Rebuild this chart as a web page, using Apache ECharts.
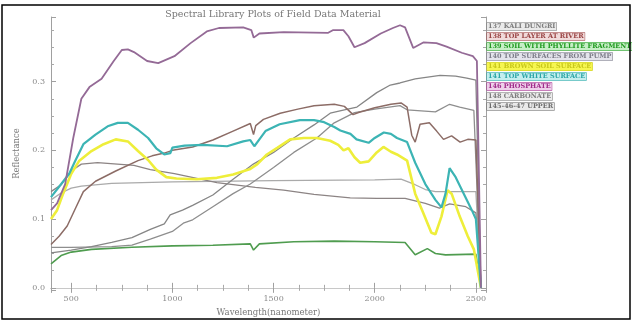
<!DOCTYPE html>
<html>
<head>
<meta charset="utf-8">
<title>Spectral Library Plots of Field Data Material</title>
<script src="https://cdn.jsdelivr.net/npm/echarts@6/dist/echarts.min.js"></script>
<style>
  html, body { margin: 0; padding: 0; background: #fff; }
  #chart { width: 632px; height: 322px; }
</style>
</head>
<body>
<div id="chart"></div>
<script>
// [wavelength nm, reflectance]
const kaliDungri = [[400,0.128],[450,0.138],[500,0.145],[550,0.148],[700,0.152],[1000,0.154],[1500,0.156],[2000,0.157],[2130,0.158],[2200,0.150],[2250,0.143],[2300,0.140],[2500,0.140],[2525,0.0]]
const topLayerRiver = [[400,0.063],[440,0.075],[480,0.090],[520,0.115],[560,0.140],[620,0.155],[720,0.170],[830,0.185],[900,0.192],[960,0.196],[1000,0.200],[1100,0.205],[1200,0.215],[1300,0.228],[1385,0.239],[1401,0.223],[1412,0.236],[1450,0.245],[1533,0.254],[1620,0.260],[1700,0.265],[1800,0.267],[1850,0.264],[1893,0.252],[1920,0.255],[2000,0.262],[2080,0.267],[2130,0.269],[2160,0.263],[2183,0.222],[2200,0.212],[2224,0.238],[2270,0.240],[2306,0.228],[2340,0.216],[2380,0.221],[2422,0.212],[2460,0.216],[2500,0.215],[2525,0.0]]
const soilPhyllite = [[400,0.035],[450,0.047],[500,0.052],[600,0.056],[800,0.059],[1000,0.061],[1200,0.062],[1385,0.064],[1401,0.055],[1430,0.064],[1600,0.067],[1800,0.068],[2000,0.067],[2150,0.066],[2200,0.048],[2260,0.057],[2300,0.050],[2350,0.048],[2500,0.049],[2525,0.0]]
const topSurfacePump = [[400,0.140],[450,0.150],[500,0.170],[550,0.180],[630,0.182],[810,0.178],[891,0.172],[1010,0.166],[1220,0.153],[1410,0.146],[1550,0.142],[1700,0.136],[1879,0.131],[2010,0.130],[2150,0.130],[2250,0.123],[2320,0.116],[2370,0.122],[2450,0.118],[2500,0.109],[2525,0.0]]
const brownSurface = [[400,0.100],[430,0.113],[460,0.137],[500,0.166],[540,0.185],[600,0.199],[660,0.209],[720,0.216],[780,0.213],[830,0.199],[880,0.186],[920,0.172],[970,0.161],[1020,0.159],[1120,0.158],[1220,0.160],[1300,0.165],[1385,0.173],[1420,0.180],[1467,0.194],[1520,0.204],[1582,0.216],[1650,0.218],[1714,0.218],[1780,0.214],[1820,0.208],[1846,0.200],[1870,0.203],[1900,0.190],[1928,0.182],[1970,0.184],[2010,0.197],[2043,0.205],[2080,0.198],[2110,0.194],[2160,0.185],[2200,0.137],[2240,0.109],[2280,0.080],[2300,0.078],[2330,0.104],[2360,0.142],[2380,0.137],[2420,0.104],[2460,0.075],[2490,0.056],[2525,0.0]]
const topWhiteSurface = [[400,0.132],[440,0.147],[490,0.166],[520,0.185],[560,0.209],[620,0.223],[680,0.235],[730,0.240],[780,0.240],[830,0.230],[880,0.218],[920,0.203],[960,0.194],[990,0.196],[1000,0.204],[1060,0.207],[1150,0.208],[1270,0.206],[1350,0.213],[1385,0.215],[1405,0.206],[1430,0.216],[1460,0.228],[1530,0.238],[1630,0.244],[1700,0.244],[1750,0.241],[1800,0.234],[1830,0.229],[1880,0.224],[1910,0.216],[1970,0.211],[2000,0.218],[2045,0.226],[2080,0.224],[2110,0.218],[2160,0.212],[2200,0.182],[2250,0.151],[2300,0.128],[2330,0.117],[2350,0.137],[2370,0.174],[2400,0.161],[2440,0.137],[2480,0.113],[2500,0.100],[2525,0.0]]
const phosphate = [[400,0.113],[430,0.123],[470,0.151],[510,0.218],[550,0.275],[590,0.292],[650,0.304],[710,0.330],[750,0.346],[780,0.347],[810,0.343],[875,0.330],[930,0.327],[1010,0.337],[1090,0.356],[1170,0.373],[1230,0.378],[1350,0.379],[1390,0.375],[1402,0.364],[1430,0.370],[1550,0.372],[1770,0.371],[1795,0.375],[1845,0.375],[1870,0.366],[1900,0.350],[1950,0.356],[2030,0.370],[2090,0.378],[2125,0.382],[2150,0.379],[2190,0.349],[2240,0.357],[2305,0.356],[2355,0.351],[2430,0.342],[2485,0.337],[2505,0.330],[2525,0.0]]
const carbonate = [[400,0.059],[500,0.059],[700,0.060],[800,0.062],[891,0.071],[1000,0.082],[1054,0.094],[1100,0.099],[1200,0.118],[1300,0.137],[1385,0.151],[1500,0.175],[1600,0.197],[1714,0.218],[1800,0.240],[1900,0.255],[2000,0.260],[2125,0.265],[2160,0.259],[2300,0.256],[2370,0.267],[2420,0.263],[2490,0.258],[2525,0.0]]
const upper454647 = [[400,0.051],[500,0.055],[600,0.060],[700,0.066],[800,0.073],[891,0.085],[960,0.093],[989,0.106],[1050,0.113],[1100,0.120],[1200,0.135],[1300,0.158],[1400,0.180],[1500,0.197],[1600,0.218],[1700,0.237],[1780,0.254],[1850,0.259],[1912,0.263],[2010,0.284],[2077,0.295],[2125,0.298],[2200,0.304],[2323,0.309],[2400,0.308],[2455,0.305],[2500,0.302],[2525,0.0]]

const names = [
  '137 KALI DUNGRI',
  '138 TOP LAYER AT RIVER',
  '139 SOIL WITH PHYLLITE FRAGMENT',
  '140 TOP SURFACES FROM PUMP',
  '141 BROWN SOIL SURFACE',
  '141 TOP WHITE SURFACE',
  '146 PHOSPHATE',
  '148 CARBONATE',
  '145-46-47 UPPER'
]
const values = [kaliDungri, topLayerRiver, soilPhyllite, topSurfacePump, brownSurface, topWhiteSurface, phosphate, carbonate, upper454647]
const lineColors = ['#aaaaaa', '#8c6c66', '#4f9c4f', '#8c8484', '#eeee3a', '#3cb4b4', '#946a96', '#8e8e8e', '#868686']
const lineWidths = [1.3, 1.5, 1.6, 1.3, 2.6, 2.2, 1.8, 1.3, 1.3]
const legendColors = ['#7c7c7c', '#9a4444', '#1f9a1f', '#7c7c88', '#c8c81a', '#2aa6a6', '#a02a8a', '#7c7c7c', '#6c6c6c']
const legendBg = ['#eaeaea', '#f0dada', '#c6eec6', '#e4e4ec', '#f6f650', '#c4eeee', '#eed0ea', '#ececec', '#eaeaea']
// draw order: greys first, coloured on top
const drawOrder = [0, 3, 7, 8, 1, 2, 4, 5, 6]

const FONT = 'DejaVu Serif'
const GREY = '#8a8a8a'

const chart = echarts.init(document.getElementById('chart'), null, { renderer: 'canvas' })

const axisCommon = {
  type: 'value',
  axisLine: { show: true, lineStyle: { color: '#a0a0a0', width: 1 } },
  axisTick: { show: true, inside: true, length: 5, lineStyle: { color: '#a0a0a0' } },
  minorTick: { show: true, splitNumber: 4, length: 3, lineStyle: { color: '#a8a8a8' } },
  splitLine: { show: false },
}

chart.setOption({
  backgroundColor: '#fff',
  animation: false,
  title: {
    text: 'Spectral Library Plots of Field Data Material',
    left: 268, top: 5, textAlign: 'center',
    textStyle: { fontFamily: FONT, fontSize: 9.5, fontWeight: 'normal', color: '#777' },
  },
  grid: { left: 51, right: 146, top: 17, bottom: 27 },
  legend: {
    orient: 'vertical',
    left: 482, top: 22,
    padding: 0,
    itemGap: 1,
    itemWidth: 0, itemHeight: 8,
    icon: 'none',
    selectedMode: false,
    data: names.map((n, i) => ({
      name: n,
      textStyle: {
        color: legendColors[i], backgroundColor: legendBg[i],
        borderColor: legendColors[i], borderWidth: 0.5,
        fontFamily: FONT, fontSize: 6.5, fontWeight: 'bold',
        padding: [1, 1, 0, 1],
      },
    })),
  },
  xAxis: [
    {
      ...axisCommon,
      position: 'bottom',
      min: 400, max: 2550, splitNumber: 4,
      name: 'Wavelength(nanometer)',
      nameLocation: 'middle', nameGap: 15,
      nameTextStyle: { fontFamily: FONT, fontSize: 8.5, color: '#777' },
      axisLabel: {
        color: GREY, fontFamily: FONT, fontSize: 8, margin: 5,
        showMinLabel: false, showMaxLabel: false,
        formatter: v => String(v),
      },
    },
    {
      ...axisCommon,
      position: 'top',
      min: 400, max: 2550, splitNumber: 4,
      axisLine: { show: true, lineStyle: { color: '#c8c8c8', width: 1 } },
      axisLabel: { show: false },
    },
  ],
  yAxis: [
    {
      ...axisCommon,
      position: 'left',
      min: -0.0033, max: 0.394, splitNumber: 4,
      name: 'Reflectance',
      nameLocation: 'middle', nameGap: 28, nameRotate: 90,
      nameTextStyle: { fontFamily: FONT, fontSize: 8.5, color: '#777' },
      axisLabel: {
        color: GREY, fontFamily: FONT, fontSize: 8, margin: 6,
        showMinLabel: false, showMaxLabel: false,
        formatter: v => v.toFixed(1),
      },
    },
    {
      ...axisCommon,
      position: 'right',
      min: -0.0033, max: 0.394, splitNumber: 4,
      axisLabel: { show: false },
    },
  ],
  series: drawOrder.map(i => ({
    name: names[i],
    type: 'line',
    data: values[i],
    showSymbol: false,
    symbol: 'none',
    color: lineColors[i],
    lineStyle: { color: lineColors[i], width: lineWidths[i] },
    z: 2,
  })),
  graphic: [
    {
      type: 'rect',
      shape: { x: 2, y: 5, width: 628, height: 314 },
      style: { fill: 'none', stroke: '#000', lineWidth: 1.5 },
      silent: true,
      z: 100,
    },
  ],
})
</script>
</body>
</html>
